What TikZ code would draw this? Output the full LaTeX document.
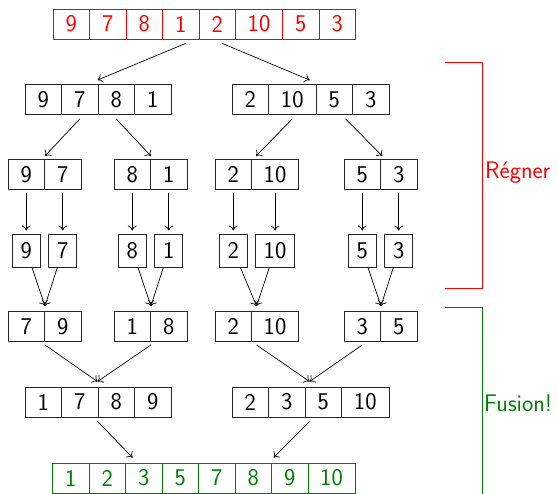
\documentclass[tikz,border=0pt]{standalone}
\usepackage{fontspec}
\usetikzlibrary{arrows.meta}
\definecolor{fgreen}{RGB}{0,128,0}
\tikzset{
  cell/.style={draw=black!85, line width=0.9pt, minimum height=30pt, inner sep=0pt, anchor=center},
  arr/.style={-{To[length=5pt,width=9pt]}, line width=0.7pt},
  brk/.style={line width=0.9pt},
  lbl/.style={anchor=west, inner sep=0pt},
}
\newcommand\myrow[4][]{\foreach \xl/\w/\lab [count=\i] in {#4}{\node[cell,#1,minimum width=\w pt] (#2\i) at (\xl+\w/2,#3) {\lab};}}
\begin{document}
\begin{tikzpicture}[x=1pt,y=-1pt,font=\fontsize{24}{28}\selectfont\sffamily]
\useasboundingbox (0,0) rectangle (558,494);
% rows
\myrow[draw=red,text=red]{T}{24}{53/36.5/9,89.5/36.5/7,126/36.5/8,162.5/36.5/1,199/36.5/2,235.5/47/10,282.5/36.5/5,319/36.5/3}
\myrow{L}{99.5}{25/36.5/9,61.5/36.5/7,98/36.5/8,134.5/36.5/1,232/36.5/2,268.5/47.5/10,316/36.5/5,352.5/36.5/3}
\myrow{M}{174.5}{8/36.5/9,44.5/36.5/7,114/36.5/8,150.5/36.5/1,215/36.5/2,251.5/47/10,344/36.5/5,380.5/36.5/3}
\myrow[minimum height=33pt]{S}{250.5}{12.25/28/9,48.75/28/7,118.25/28/8,154.75/28/1,219.25/28/2,255.5/39/10,348.25/28/5,384.75/28/3}
\myrow{N}{326.5}{8/36.5/7,44.5/36.5/9,114/36.5/1,150.5/36.5/8,215/36.5/2,251.5/47/10,344/36.5/3,380.5/36.5/5}
\myrow{P}{402}{25/36.5/1,61.5/36.5/7,98/36.5/8,134.5/36.5/9,232/36.5/2,268.5/36.5/3,305/36.5/5,341.5/47.5/10}
\myrow[draw=fgreen,text=fgreen]{B}{478}{52.5/36.5/1,89/36.5/2,125.5/36.5/3,162/36.5/5,198.5/36.5/7,235/36.5/8,271.5/36.5/9,308/47/10}
% top -> level 1
\draw[arr] ([shift={(-13,4)}]T5.south west) -- ([shift={(0,-4)}]L3.north west);
\draw[arr] ([shift={(5,4)}]T5.south) -- ([shift={(-6,-4)}]L7.north west);
% level 1 -> level 2
\draw[arr] ([shift={(0,4)}]L2.south) -- ([shift={(0,-3)}]M1.north east);
\draw[arr] ([shift={(0,4)}]L3.south) -- ([shift={(0,-3)}]M3.north east);
\draw[arr] ([shift={(0,4)}]L6.south) -- ([shift={(5,-3)}]M6.north west);
\draw[arr] ([shift={(-6.5,4)}]L8.south west) -- ([shift={(1.5,-3)}]M7.north east);
% level 2 -> singletons
\foreach \i in {1,...,8}{\draw[arr,shorten <=3pt,shorten >=3pt] (M\i) -- (S\i);}
% singletons -> level 4
\draw[arr] (S1) -- ([shift={(0,-5)}]N1.north east);
\draw[arr] (S2) -- ([shift={(0,-5)}]N1.north east);
\draw[arr] (S3) -- ([shift={(0,-5)}]N3.north east);
\draw[arr] (S4) -- ([shift={(0,-5)}]N3.north east);
\draw[arr] (S5) -- ([shift={(5.5,-5)}]N6.north west);
\draw[arr] (S6) -- ([shift={(5.5,-5)}]N6.north west);
\draw[arr] (S7) -- ([shift={(0,-5)}]N7.north east);
\draw[arr] (S8) -- ([shift={(0,-5)}]N7.north east);
% level 4 -> level 5
\draw[arr] ([shift={(0,3)}]N1.south east) -- ([shift={(0,-5)}]P3.north west);
\draw[arr] ([shift={(0,3)}]N3.south east) -- ([shift={(0,-5)}]P3.north west);
\draw[arr] ([shift={(5.5,3)}]N6.south west) -- ([shift={(5,-5)}]P7.north west);
\draw[arr] ([shift={(0,3)}]N7.south) -- ([shift={(5,-5)}]P7.north west);
% level 5 -> bottom
\draw[arr] ([shift={(0,4)}]P3.south west) -- ([shift={(7.5,-5)}]B3.north west);
\draw[arr] ([shift={(5,4)}]P7.south west) -- ([shift={(2.5,-5)}]B7.north west);
% brackets
\draw[brk,red] (445,62) -- (482,62) -- (482,288) -- (445,288);
\node[lbl,text=red] (reg) at (485,173) {Régner};
\draw[brk,fgreen] (445,307) -- (482,307) -- (482,494);
\node[lbl,text=fgreen] (fus) at (484,403) {Fusion!};
\end{tikzpicture}
\end{document}
